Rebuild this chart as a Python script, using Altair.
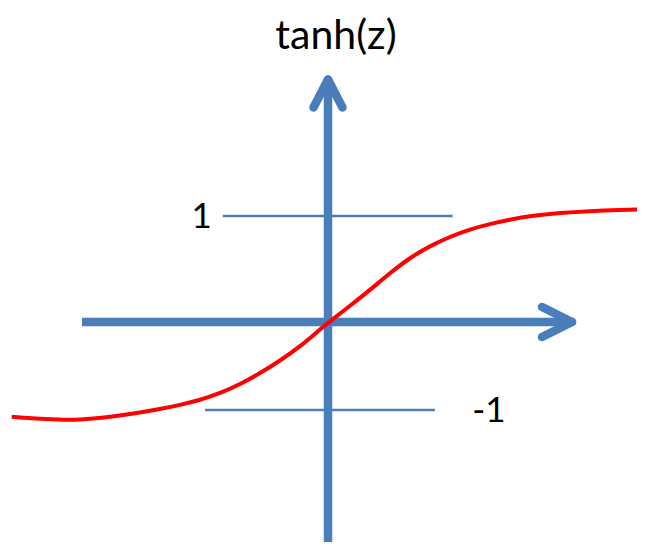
import altair as alt
import pandas as pd

# ---- data (units: 1 = distance from axis to the "1" line) ----
curve_z = [-2.984, -2.811, -2.528, -2.340, -2.151, -1.868, -1.585, -1.396, -1.208, -1.019,
           -0.830, -0.642, -0.453, -0.264, -0.075, 0.01, 0.255, 0.396, 0.585, 0.774,
           0.962, 1.151, 1.340, 1.528, 1.717, 1.906, 2.189, 2.472, 2.755, 2.991]
curve_t = [-0.893, -0.908, -0.922, -0.922, -0.908, -0.871, -0.821, -0.783, -0.736, -0.673,
           -0.588, -0.484, -0.365, -0.233, -0.070, 0.0, 0.190, 0.302, 0.462, 0.607,
           0.717, 0.805, 0.875, 0.925, 0.965, 1.000, 1.030, 1.047, 1.057, 1.063]

# main axes (shafts)
shaft_x1 = [-2.321, 0.0]
shaft_y1 = [0.0, -2.151]
shaft_x2 = [2.302, 0.0]
shaft_y2 = [0.0, 2.288]

# arrow heads (open chevrons): wing-start -> tip
head_x1 = [2.019, 2.019, -0.137, 0.137]
head_y1 = [0.1415, -0.1415, 2.024, 2.024]
head_x2 = [2.302, 2.302, 0.0, 0.0]
head_y2 = [0.0, 0.0, 2.288, 2.288]

# reference lines at +1 and -1
ref_x1 = [-0.993, -1.160]
ref_x2 = [1.176, 1.009]
ref_y = [1.0, -0.830]

# labels
label_text = ["1", "-1"]
label_x = [-1.193, 1.519]
label_y = [0.995, -0.835]

title_text = ["tanh(z)"]
title_x = [0.075]
title_y = [2.575]

BLUE = "#4a7ebb"
RED = "#ff0000"
FONT = "Lato"

W, H = 629, 534
xs = alt.Scale(domain=[-320 / 106, (W - 320) / 106], nice=False, zero=False)
ys = alt.Scale(domain=[-(H - 314) / 106, 314 / 106], nice=False, zero=False)

curve_df = pd.DataFrame({"z": curve_z, "t": curve_t})
shaft_df = pd.DataFrame({"x": shaft_x1, "y": shaft_y1, "x2": shaft_x2, "y2": shaft_y2})
head_df = pd.DataFrame({"x": head_x1, "y": head_y1, "x2": head_x2, "y2": head_y2})
ref_df = pd.DataFrame({"x": ref_x1, "x2": ref_x2, "y": ref_y})
label_df = pd.DataFrame({"text": label_text, "x": label_x, "y": label_y})
title_df = pd.DataFrame({"text": title_text, "x": title_x, "y": title_y})

X = lambda f: alt.X(f, type="quantitative", scale=xs, axis=None)
Y = lambda f: alt.Y(f, type="quantitative", scale=ys, axis=None)

ref = alt.Chart(ref_df).mark_rule(color=BLUE, strokeWidth=2.5).encode(
    x=X("x"), x2="x2", y=Y("y"))

shafts = alt.Chart(shaft_df).mark_rule(color=BLUE, strokeWidth=8.5, strokeCap="butt").encode(
    x=X("x"), y=Y("y"), x2="x2", y2="y2")

heads = alt.Chart(head_df).mark_rule(color=BLUE, strokeWidth=8.5, strokeCap="round").encode(
    x=X("x"), y=Y("y"), x2="x2", y2="y2")

curve = alt.Chart(curve_df).mark_line(color=RED, strokeWidth=4, interpolate="basis").encode(
    x=X("z"), y=Y("t"))

labels = alt.Chart(label_df).mark_text(font=FONT, fontSize=35, color="black",
                                       align="center", baseline="middle").encode(
    x=X("x"), y=Y("y"), text="text")

title = alt.Chart(title_df).mark_text(font=FONT, fontSize=41, color="black",
                                      align="center", baseline="alphabetic").encode(
    x=X("x"), y=Y("y"), text="text")

chart = alt.layer(ref, shafts, heads, curve, labels, title).properties(
    width=W, height=H, padding=0, autosize=alt.AutoSizeParams(type="none")
).configure_view(strokeWidth=0, stroke="transparent")

chart.save("out.html", embed_options={"renderer": "svg", "actions": False})
